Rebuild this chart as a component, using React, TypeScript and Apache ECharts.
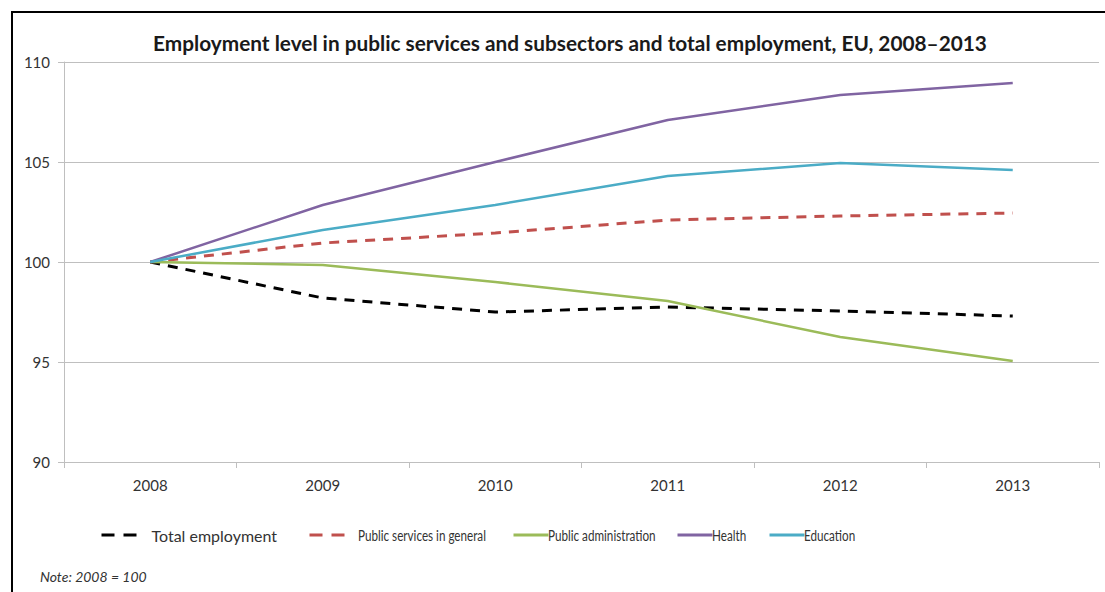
import React, { useEffect, useRef } from "react";
import * as echarts from "echarts";

const years = ["2008", "2009", "2010", "2011", "2012", "2013"];
const totalEmployment = [100, 98.2, 97.5, 97.75, 97.55, 97.3];
const publicServices = [100, 100.95, 101.45, 102.1, 102.3, 102.45];
const publicAdministration = [100, 99.85, 99.0, 98.05, 96.25, 95.05];
const health = [100, 102.85, 105.0, 107.1, 108.35, 108.95];
const education = [100, 101.6, 102.85, 104.3, 104.95, 104.6];

const titleText = "Employment level in public services and subsectors and total employment, EU, 2008\u20132013";
const noteText = "Note: 2008 = 100";
const FONT = "Lato, 'Open Sans', sans-serif";

export default function App() {
  const ref = useRef<HTMLDivElement>(null);
  useEffect(() => {
    if (!ref.current) return;
    const chart = echarts.init(ref.current, null, { renderer: "svg" });
    const seriesDefs = [
      { name: "Total employment", data: totalEmployment, color: "#000000", dashed: true, width: 3 },
      { name: "Public services in general", data: publicServices, color: "#c0504d", dashed: true, width: 3 },
      { name: "Public administration", data: publicAdministration, color: "#9bbb59", dashed: false, width: 2.5 },
      { name: "Health", data: health, color: "#8064a2", dashed: false, width: 2.5 },
      { name: "Education", data: education, color: "#4bacc6", dashed: false, width: 2.5 },
    ];
    // legend icon positions; names of the condensed items are drawn as scaled text
    const legendLefts = [100, 308, 512, 676, 768];
    const condensedTextX = [0, 358, 548, 712, 804];
    const legendY = 535;
    const condensedTexts = seriesDefs.slice(1).map((s, k) => ({
      type: "text",
      x: condensedTextX[k + 1],
      y: legendY,
      scaleX: 0.73,
      silent: true,
      style: {
        text: s.name,
        font: `16px ${FONT}`,
        fill: "#333",
        verticalAlign: "middle",
        align: "left",
      },
    }));
    chart.setOption({
      animation: false,
      textStyle: { fontFamily: FONT },
      title: {
        text: titleText,
        left: 565,
        textAlign: "center",
        top: 27,
        textStyle: { fontFamily: FONT, fontSize: 20.8, fontWeight: "bold", color: "#1a1a1a" },
      },
      graphic: [
        {
          type: "rect",
          shape: { x: 12, y: 12, width: 1300, height: 800 },
          style: { fill: "none", stroke: "#000", lineWidth: 2 },
          silent: true,
        },
        {
          type: "text",
          left: 40,
          top: 569,
          style: { text: noteText, font: `italic 14px ${FONT}`, fill: "#333" },
        },
        ...condensedTexts,
      ],
      legend: seriesDefs.map((s, i) => ({
        data: [s.name],
        left: legendLefts[i],
        top: legendY - 8,
        padding: 0,
        itemWidth: 35,
        itemHeight: 16,
        selectedMode: false,
        itemStyle: { opacity: 0 },
        lineStyle: { width: 3, opacity: 1, type: s.dashed ? [13, 9] : "solid" },
        formatter: i === 0 ? "{name}" : () => "",
        textStyle: {
          fontFamily: FONT,
          fontSize: 16,
          color: "#333",
          padding: [0, 0, 0, 10],
        },
      })),
      grid: { left: 64, right: 6, top: 62, bottom: 130, containLabel: false },
      xAxis: {
        type: "category",
        data: years,
        boundaryGap: true,
        axisLine: { lineStyle: { color: "#bfbfbf", width: 1 } },
        axisTick: { show: true, length: 6, lineStyle: { color: "#bfbfbf" } },
        axisLabel: { color: "#333", fontSize: 15, fontFamily: FONT, margin: 15 },
      },
      yAxis: {
        type: "value",
        min: 90,
        max: 110,
        interval: 5,
        axisLine: { show: true, lineStyle: { color: "#bfbfbf", width: 1 } },
        axisTick: { show: true, length: 6, lineStyle: { color: "#bfbfbf" } },
        axisLabel: { color: "#333", fontSize: 15, fontFamily: FONT, margin: 14 },
        splitLine: { lineStyle: { color: "#bfbfbf", width: 1 } },
      },
      series: seriesDefs.map((s) => ({
        name: s.name,
        type: "line",
        data: s.data,
        symbol: "none",
        showSymbol: false,
        itemStyle: { color: s.color },
        lineStyle: {
          color: s.color,
          width: s.width,
          type: s.dashed ? [10, 8] : "solid",
        },
      })),
    });
    return () => chart.dispose();
  }, []);
  return (
    <div
      ref={ref}
      style={{ position: "fixed", left: 0, top: 0, width: 1105, height: 592, background: "#fff" }}
    />
  );
}
